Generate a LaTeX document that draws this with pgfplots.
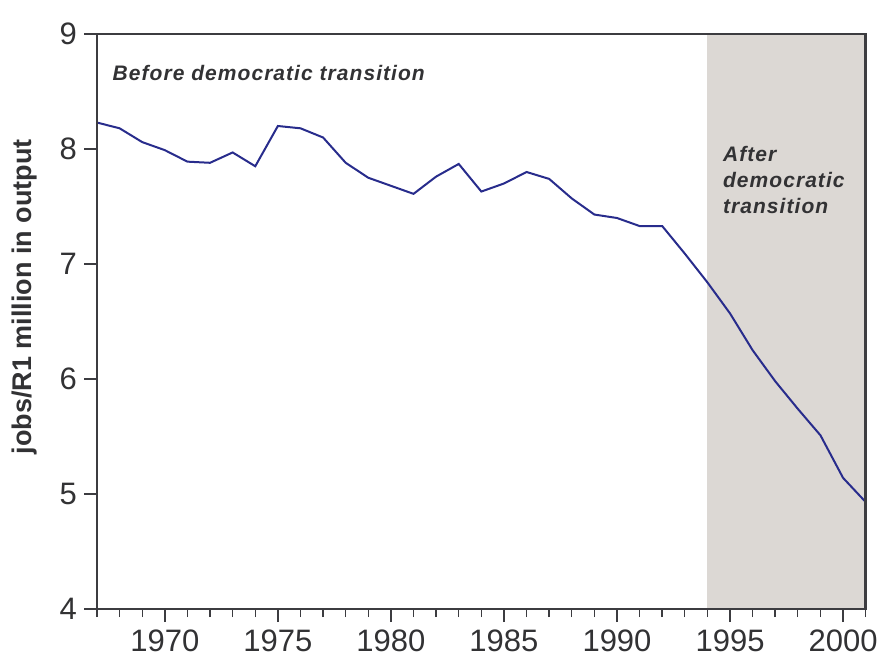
\documentclass[border=0pt]{standalone}
\usepackage{fontspec}
\setmainfont{Liberation Sans}
\newfontfamily\annfont[LetterSpace=5]{Liberation Sans}
\usepackage{pgfplots}
\pgfplotsset{compat=1.18}
\definecolor{shadec}{RGB}{220,216,212}
\definecolor{navy}{RGB}{40,44,140}
\definecolor{axisgray}{RGB}{60,60,64}
\definecolor{txt}{RGB}{50,50,52}
\pgfplotstableread{
year value
1967 8.23
1968 8.18
1969 8.06
1970 7.99
1971 7.89
1972 7.88
1973 7.97
1974 7.85
1975 8.20
1976 8.18
1977 8.10
1978 7.88
1979 7.75
1980 7.68
1981 7.61
1982 7.76
1983 7.87
1984 7.63
1985 7.70
1986 7.80
1987 7.74
1988 7.57
1989 7.43
1990 7.40
1991 7.33
1992 7.33
1993 7.09
1994 6.84
1995 6.57
1996 6.25
1997 5.98
1998 5.74
1999 5.51
2000 5.14
2001 4.93
}\datatable
\begin{document}
\begin{tikzpicture}
\useasboundingbox (0,0) rectangle (440pt,327.5pt);
\begin{axis}[
  at={(48.5pt,23pt)}, anchor=south west,
  scale only axis, width=384.35pt, height=287.5pt,
  xmin=1967, xmax=2001, ymin=4, ymax=9,
  xtick={1970,1975,...,2000},
  minor xtick={1967,...,2001},
  ytick={4,...,9},
  xtick pos=bottom, ytick pos=left,
  tick align=outside,
  major tick length=6.5pt, minor tick length=4pt,
  axis line style={axisgray, line width=1.3pt},
  tick style={axisgray, line width=0.7pt},
  /pgf/number format/assume math mode=true,
  /pgf/number format/set thousands separator={},
  ticklabel style={font=\fontsize{15.5}{15.5}\selectfont, text=txt},
  xticklabel style={yshift=-0.3pt},
  ylabel={jobs/R1 million in output},
  ylabel style={font=\bfseries\fontsize{13.5}{13.5}\selectfont, text=txt,
    at={(axis description cs:-0.0937,0.543)}, anchor=center, rotate=0},
  axis on top,
  clip=false,
]
\fill[shadec] (axis cs:1994,4) rectangle (axis cs:2001,9);
\addplot[navy, line width=1pt, no markers] table[x=year, y=value] {\datatable};
\node[anchor=west, inner sep=0, text=txt, font=\annfont\bfseries\itshape\fontsize{10.5}{13}\selectfont]
  at (rel axis cs:0.0199,0.932) {Before democratic transition};
\node[anchor=west, inner sep=0, align=left, text=txt, font=\annfont\bfseries\itshape\fontsize{10.5}{13}\selectfont]
  at (rel axis cs:0.814,0.746) {After\\democratic\\transition};
\end{axis}
\end{tikzpicture}
\end{document}
